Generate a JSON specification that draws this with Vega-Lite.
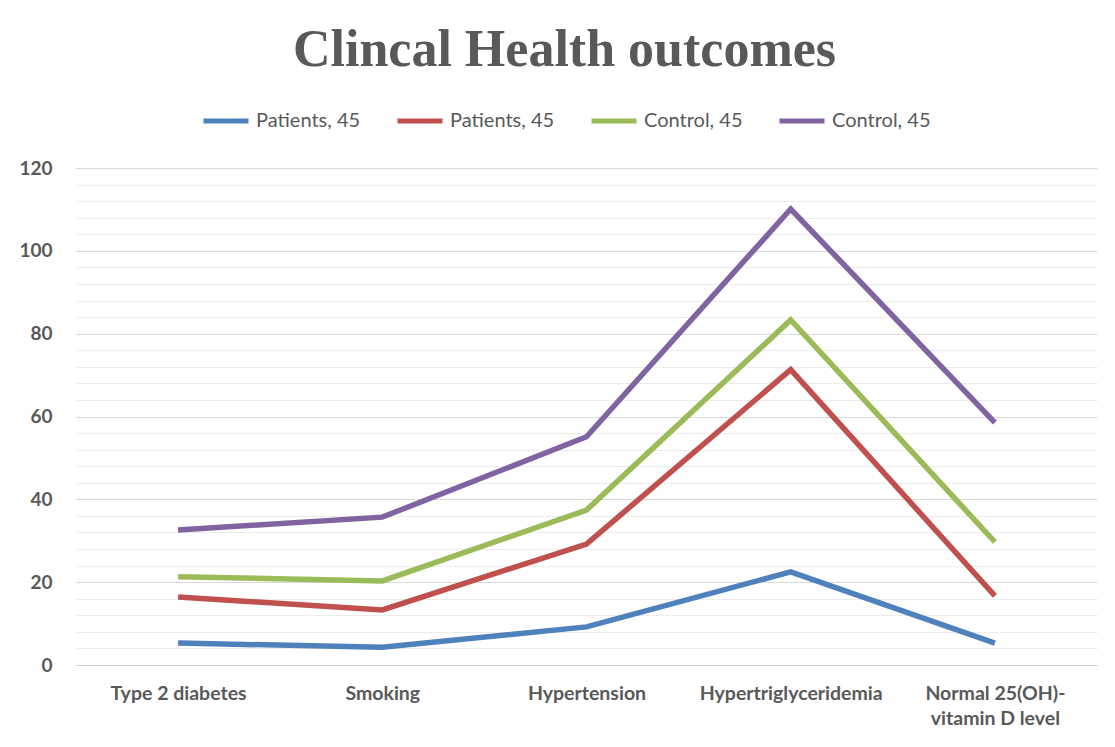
{
  "$schema": "https://vega.github.io/schema/vega-lite/v6.json",
  "autosize": "none",
  "width": 1021,
  "height": 497,
  "padding": {"left": 76, "top": 168, "right": 18, "bottom": 82},
  "background": "white",
  "title": {
    "text": "Clincal Health outcomes",
    "font": "Liberation Serif",
    "fontSize": 52,
    "fontWeight": "bold",
    "color": "#595959",
    "anchor": "middle",
    "frame": "group",
    "baseline": "alphabetic",
    "dx": -22,
    "offset": -22
  },
  "data": {
    "values": [
      {"outcome": "Type 2 diabetes", "series": 1, "value": 5.3},
      {"outcome": "Smoking", "series": 1, "value": 4.3},
      {"outcome": "Hypertension", "series": 1, "value": 9.2},
      {"outcome": "Hypertriglyceridemia", "series": 1, "value": 22.5},
      {"outcome": "Normal 25(OH)-vitamin D level", "series": 1, "value": 5.3},
      {"outcome": "Type 2 diabetes", "series": 2, "value": 16.4},
      {"outcome": "Smoking", "series": 2, "value": 13.3},
      {"outcome": "Hypertension", "series": 2, "value": 29.2},
      {"outcome": "Hypertriglyceridemia", "series": 2, "value": 71.3},
      {"outcome": "Normal 25(OH)-vitamin D level", "series": 2, "value": 16.7},
      {"outcome": "Type 2 diabetes", "series": 3, "value": 21.3},
      {"outcome": "Smoking", "series": 3, "value": 20.3},
      {"outcome": "Hypertension", "series": 3, "value": 37.4},
      {"outcome": "Hypertriglyceridemia", "series": 3, "value": 83.3},
      {"outcome": "Normal 25(OH)-vitamin D level", "series": 3, "value": 29.7},
      {"outcome": "Type 2 diabetes", "series": 4, "value": 32.6},
      {"outcome": "Smoking", "series": 4, "value": 35.7},
      {"outcome": "Hypertension", "series": 4, "value": 55.1},
      {"outcome": "Hypertriglyceridemia", "series": 4, "value": 110.1},
      {"outcome": "Normal 25(OH)-vitamin D level", "series": 4, "value": 58.5}
    ]
  },
  "mark": {"type": "line", "strokeWidth": 5.5, "strokeJoin": "miter", "strokeCap": "butt"},
  "encoding": {
    "x": {
      "field": "outcome",
      "type": "nominal",
      "sort": null,
      "scale": {"type": "point", "padding": 0.5},
      "axis": {
        "title": null,
        "labelAngle": 0,
        "ticks": false,
        "domain": true,
        "domainColor": "#d0d0d0",
        "domainWidth": 1,
        "labelFont": "Lato",
        "labelFontWeight": "bold",
        "labelFontSize": 19.5,
        "labelColor": "#595959",
        "labelPadding": 19,
        "labelBaseline": "top",
        "labelLineHeight": 25,
        "labelLimit": 400,
        "labelOverlap": false,
        "labelExpr": "datum.value == 'Normal 25(OH)-vitamin D level' ? ['Normal 25(OH)-', 'vitamin D level'] : datum.value"
      }
    },
    "y": {
      "field": "value",
      "type": "quantitative",
      "scale": {"domain": [0, 120], "nice": false, "zero": true},
      "axis": {
        "title": null,
        "values": [0, 4, 8, 12, 16, 20, 24, 28, 32, 36, 40, 44, 48, 52, 56, 60, 64, 68, 72, 76, 80, 84, 88, 92, 96, 100, 104, 108, 112, 116, 120],
        "labelExpr": "datum.value % 20 === 0 ? datum.label : ''",
        "ticks": false,
        "domain": false,
        "grid": true,
        "gridColor": {"condition": {"test": "datum.value % 20 === 0", "value": "#d9d9d9"}, "value": "#ececec"},
        "gridWidth": 1,
        "labelFont": "Lato",
        "labelFontWeight": "bold",
        "labelFontSize": 19,
        "labelColor": "#595959",
        "labelPadding": 24
      }
    },
    "color": {
      "field": "series",
      "type": "nominal",
      "scale": {"domain": [1, 2, 3, 4], "range": ["#4F81BD", "#C0504D", "#9BBB59", "#8064A2"]},
      "legend": {
        "title": null,
        "orient": "none",
        "direction": "horizontal",
        "columns": 4,
        "legendX": 125,
        "legendY": -72,
        "symbolType": "stroke",
        "symbolSize": 2025,
        "symbolStrokeWidth": 5,
        "labelFont": "Lato",
        "labelFontSize": 20,
        "labelColor": "#595959",
        "labelOffset": 5,
        "columnPadding": 26,
        "labelExpr": "['Patients, 45', 'Patients, 45', 'Control, 45', 'Control, 45'][datum.value - 1]"
      }
    }
  },
  "config": {"view": {"stroke": null}}
}
